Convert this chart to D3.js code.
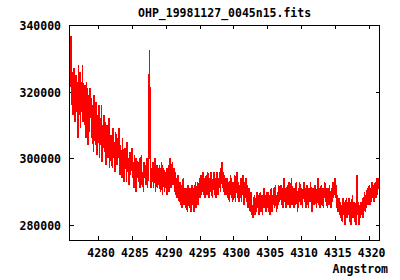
<!DOCTYPE html>
<html>
<head>
<meta charset="utf-8">
<script src="https://cdn.jsdelivr.net/npm/d3@7/dist/d3.min.js"></script>
<style>
  body { margin: 0; background: #fff; }
  svg text { font-family: "DejaVu Sans Mono", "Liberation Mono", monospace; font-weight: bold; font-size: 11.5px; fill: #000; }
</style>
</head>
<body>
<div id="chart"></div>
<script>
// 1. Data:
var title = "OHP_19981127_0045n15.fits";
var xLabel = "Angstrom";
var xTicks = [4280, 4285, 4290, 4295, 4300, 4305, 4310, 4315, 4320];
var yTicks = [280000, 300000, 320000, 340000];

// spectrum sampled every 0.1 Angstrom, starting at 4275.8
var waveStart = 4275.8;
var waveStep = 0.1;
// flux in thousands of counts
var fluxK = [
  321, 326,
  336.7, 316, 326, 313, 327, 319, 311, 325, 314, 323,
  306, 328, 313, 326, 309, 323, 316, 328, 311, 321,
  310, 322, 306, 323, 314, 304, 319, 308, 321, 312,
  318, 306, 316, 302, 319, 310, 304, 317, 301, 313,
  307, 316, 300, 312, 304, 316, 299, 310, 303, 313,
  302, 311, 298, 310, 304, 300, 312, 297, 307, 301,
  307, 297, 309, 300, 305, 296, 308, 301, 298, 306,
  300, 309, 295, 304, 298, 294, 306, 299, 293, 303,
  297, 303, 293, 305, 296, 300, 292, 302, 295, 299,
  303, 294, 299, 291, 301, 296, 290, 300, 294, 298,
  293, 300, 291, 298, 301, 292, 296, 290, 299, 294,
  298, 292, 300, 291, 296, 313, 332.5, 301, 291, 297,
  293, 299, 291, 297, 300, 290, 296, 298, 291, 297,
  292, 298, 290, 296, 299, 289, 295, 297, 290, 296,
  291, 297, 289, 295, 298, 290, 300, 296, 291, 297,
  299, 292, 297, 290, 296, 289, 294, 288, 295, 290,
  287, 293, 286, 292, 285, 291, 294, 286, 291, 285,
  291, 286, 284, 292, 288, 285, 291, 284, 290, 292,
  286, 291, 284, 290, 293, 285, 290, 293, 286, 291,
  294, 288, 295, 289, 293, 296, 289, 294, 288, 293,
  295, 289, 296, 291, 288, 294, 290, 296, 291, 288,
  293, 296, 289, 294, 288, 293, 296, 289, 294, 291,
  296, 290, 297, 299, 291, 296, 290, 295, 289, 294,
  289, 294, 288, 293, 287, 292, 295, 288, 293, 287,
  293, 288, 295, 287, 292, 296, 288, 293, 287, 292,
  288, 294, 287, 292, 295, 289, 286, 293, 288, 294,
  287, 292, 285, 291, 286, 284, 290, 283, 286, 282,
  285, 289, 283, 288, 284, 290, 285, 289, 283, 288,
  290, 284, 289, 283, 288, 291, 285, 289, 284, 290,
  285, 290, 284, 289, 283, 288, 291, 284, 289, 286,
  291, 285, 292, 287, 284, 290, 286, 292, 287, 290,
  292, 286, 291, 285, 290, 294, 287, 291, 285, 290,
  292, 286, 293, 288, 285, 291, 294, 286, 291, 288,
  285, 291, 286, 293, 288, 284, 291, 287, 293, 288,
  286, 291, 285, 290, 293, 287, 291, 285, 290, 292,
  288, 285, 291, 287, 293, 289, 284, 291, 286, 291,
  286, 292, 288, 285, 291, 294, 286, 291, 285, 290,
  292, 286, 291, 285, 290, 293, 287, 291, 288, 285,
  291, 286, 292, 288, 285, 291, 287, 293, 288, 291,
  294, 288, 292, 285, 289, 284, 288, 283, 287, 282,
  286, 281, 288, 283, 287, 280, 285, 288, 282, 287,
  283, 288, 281, 287, 280, 285, 289, 282, 287, 281,
  286, 280, 290, 295, 283, 287, 280, 286, 282, 287,
  283, 288, 282, 287, 290, 284, 289, 285, 291, 286,
  290, 292, 286, 291, 287, 293, 288, 292, 287, 291,
  293, 288, 294, 289, 293, 294, 291
];

var spectrum = fluxK.map(function(f, i) {
  return { wave: waveStart + i * waveStep, flux: f * 1000 };
});

// 2. SVG size and plot box:
var svgWidth = 400;
var svgHeight = 280;
var plot = { left: 69.7, right: 379.5, top: 25, bottom: 240 };

var svg = d3.select("#chart").append("svg")
    .attr("width", svgWidth)
    .attr("height", svgHeight);

// 3. Scales:
var xScale = d3.scaleLinear()
    .domain([4275.8, 4321.6])
    .range([plot.left, plot.right]);

var yScale = d3.scaleLinear()
    .domain([275500, 340000])
    .range([plot.bottom, plot.top]);

// 4. Axes, gnuplot style: ticks inward, mirrored on all four sides
var tickLen = 4;
var axisBottom = d3.axisBottom(xScale).tickValues(xTicks).tickSizeInner(-tickLen).tickSizeOuter(0).tickFormat("");
var axisTop = d3.axisTop(xScale).tickValues(xTicks).tickSizeInner(-tickLen).tickSizeOuter(0).tickFormat("");
var axisLeft = d3.axisLeft(yScale).tickValues(yTicks).tickSizeInner(-tickLen).tickSizeOuter(0).tickFormat("");
var axisRight = d3.axisRight(yScale).tickValues(yTicks).tickSizeInner(-tickLen).tickSizeOuter(0).tickFormat("");

function styleAxis(g) {
  g.select(".domain").remove();
  g.selectAll("line").attr("stroke", "#000").attr("shape-rendering", "crispEdges");
}

svg.append("g").attr("transform", `translate(0, ${plot.bottom})`).call(axisBottom).call(styleAxis);
svg.append("g").attr("transform", `translate(0, ${plot.top})`).call(axisTop).call(styleAxis);
svg.append("g").attr("transform", `translate(${plot.left}, 0)`).call(axisLeft).call(styleAxis);
svg.append("g").attr("transform", `translate(${plot.right}, 0)`).call(axisRight).call(styleAxis);

// 5. The spectrum line:
var line = d3.line()
    .x(d => xScale(d.wave))
    .y(d => yScale(d.flux));

svg.append("path")
    .datum(spectrum)
    .attr("d", line)
    .attr("fill", "none")
    .attr("stroke", "#ff0000")
    .attr("stroke-width", 1.5)
    .attr("shape-rendering", "crispEdges");

// 6. Border box:
svg.append("rect")
    .attr("x", plot.left)
    .attr("y", plot.top)
    .attr("width", plot.right - plot.left)
    .attr("height", plot.bottom - plot.top)
    .attr("fill", "none")
    .attr("stroke", "#000")
    .attr("shape-rendering", "crispEdges");

// 7. Tick labels:
svg.selectAll(".xlab")
    .data(xTicks)
    .enter()
    .append("text")
    .attr("x", d => xScale(d) + 3)
    .attr("y", 257)
    .attr("text-anchor", "middle")
    .text(d => d);

svg.selectAll(".ylab")
    .data(yTicks)
    .enter()
    .append("text")
    .attr("x", 61)
    .attr("y", d => yScale(d) + 5)
    .attr("text-anchor", "end")
    .text(d => d);

// 8. Title and axis label:
svg.append("text")
    .attr("x", (plot.left + plot.right) / 2)
    .attr("y", 17)
    .attr("text-anchor", "middle")
    .text(title);

svg.append("text")
    .attr("x", 388)
    .attr("y", 273)
    .attr("text-anchor", "end")
    .text(xLabel);
</script>
</body>
</html>
